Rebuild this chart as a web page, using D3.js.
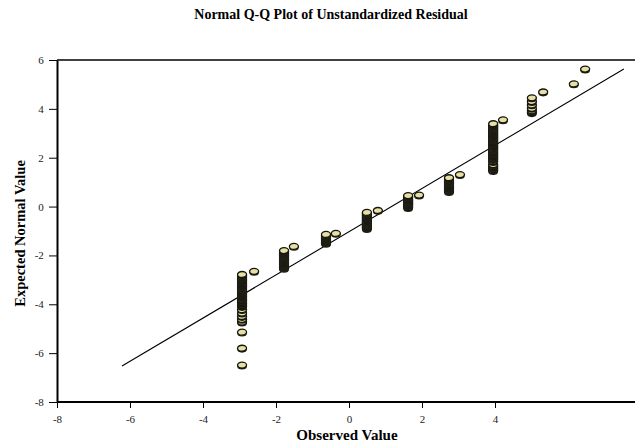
<!DOCTYPE html>
<html>
<head>
<meta charset="utf-8">
<script src="https://cdn.jsdelivr.net/npm/d3@7"></script>
<style>
  body { margin: 0; background: #fff; }
  svg { display: block; }
</style>
</head>
<body>
<svg id="chart" width="635" height="442"></svg>
<script>
// ---- data ----
const xTicks = [-8, -6, -4, -2, 0, 2, 4];
const yTicks = [-8, -6, -4, -2, 0, 2, 4, 6];

// observed value of each stacked cluster
const clusterObserved = [-2.93, -1.78, -0.63, 0.49, 1.62, 2.74, 3.95, 5.01];
// expected normal values within each cluster
const clusterExpected = [
  [-2.78, -2.83, -2.88, -2.93, -2.98, -3.03, -3.08, -3.13, -3.18, -3.23, -3.28, -3.33, -3.38, -3.43, -3.48, -3.53, -3.58, -3.63, -3.68, -3.73, -3.79, -3.85, -3.91, -3.97, -4.03, -4.09, -4.22, -4.36, -4.50, -4.62, -4.73, -5.14, -5.80, -6.49],
  [-1.80, -1.84, -1.88, -1.92, -1.96, -2.00, -2.05, -2.10, -2.14, -2.18, -2.22, -2.27, -2.32, -2.36, -2.41, -2.45, -2.49, -2.53],
  [-1.14, -1.18, -1.22, -1.26, -1.30, -1.34, -1.38, -1.43, -1.47, -1.51],
  [-0.24, -0.28, -0.33, -0.37, -0.42, -0.46, -0.50, -0.55, -0.59, -0.63, -0.68, -0.72, -0.76, -0.81, -0.85, -0.90],
  [0.45, 0.41, 0.36, 0.31, 0.26, 0.22, 0.17, 0.12, 0.08, 0.03, -0.04],
  [1.18, 1.13, 1.08, 1.03, 0.98, 0.93, 0.88, 0.83, 0.78, 0.73, 0.67, 0.61],
  [3.39, 3.34, 3.29, 3.24, 3.19, 3.14, 3.09, 3.04, 2.99, 2.94, 2.89, 2.84, 2.79, 2.74, 2.68, 2.63, 2.58, 2.52, 2.46, 2.40, 2.34, 2.28, 2.22, 2.16, 2.10, 2.04, 1.98, 1.92, 1.84, 1.72, 1.66, 1.60, 1.54, 1.47],
  [4.45, 4.30, 4.16, 4.02, 3.92, 3.84]
];
// isolated points beside the stacks
const extraObserved = [-2.60, -1.51, -0.36, 0.79, 1.92, 3.04, 4.22, 5.32, 6.16, 6.47];
const extraExpected = [-2.65, -1.63, -1.10, -0.16, 0.47, 1.31, 3.55, 4.69, 5.02, 5.63];

// reference line end points
const lineObserved = [-6.22, 7.53];
const lineExpected = [-6.53, 5.63];

// ---- drawing ----
const svg = d3.select("#chart");
const serif = "'Liberation Serif', 'Times New Roman', serif";

const x = d3.scaleLinear().domain([-8, 8]).range([57, 641]);
const y = d3.scaleLinear().domain([-8, 6]).range([402, 60]);

// title
svg.append("text")
  .attr("x", 331).attr("y", 19)
  .attr("text-anchor", "middle")
  .attr("font-family", serif)
  .attr("font-weight", "bold")
  .attr("font-size", 14)
  .text("Normal Q-Q Plot of Unstandardized Residual");

// top frame line
svg.append("line")
  .attr("x1", x(-8)).attr("x2", 635)
  .attr("y1", y(6)).attr("y2", y(6))
  .attr("stroke", "#000").attr("stroke-width", 1.5);

// axes
const gx = svg.append("g")
  .attr("transform", `translate(0,${y(-8)})`)
  .call(d3.axisBottom(x).tickValues(xTicks).tickSize(6).tickSizeOuter(0).tickFormat(d3.format("d")));
const gy = svg.append("g")
  .attr("transform", `translate(${x(-8)},0)`)
  .call(d3.axisLeft(y).tickValues(yTicks).tickSize(8).tickSizeOuter(0).tickFormat(d3.format("d")));

[gx, gy].forEach(g => {
  g.select(".domain").attr("stroke", "#000").attr("stroke-width", 2);
  g.selectAll(".tick line").attr("stroke", "#000").attr("stroke-width", 1);
  g.selectAll(".tick text")
    .attr("font-family", serif)
    .attr("font-size", 11)
    .attr("fill", "#222")
    .text(d => d < 0 ? "-" + Math.abs(d) : d);
});
gx.select(".domain").attr("d", `M${x(-8)},0H635`);
gx.selectAll(".tick text").attr("dy", "1.05em");
gy.selectAll(".tick text").attr("dx", "-0.2em");

// axis titles
svg.append("text")
  .attr("x", 347).attr("y", 440)
  .attr("text-anchor", "middle")
  .attr("font-family", serif)
  .attr("font-weight", "bold")
  .attr("font-size", 15)
  .text("Observed Value");
svg.append("text")
  .attr("transform", `translate(25,${y(-1.1)}) rotate(-90)`)
  .attr("text-anchor", "middle")
  .attr("font-family", serif)
  .attr("font-weight", "bold")
  .attr("font-size", 14.5)
  .text("Expected Normal Value");

// reference line
svg.append("line")
  .attr("x1", x(lineObserved[0])).attr("y1", y(lineExpected[0]))
  .attr("x2", x(lineObserved[1])).attr("y2", y(lineExpected[1]))
  .attr("stroke", "#000").attr("stroke-width", 1.1);

// points
const points = [];
clusterObserved.forEach((ox, i) => {
  clusterExpected[i].forEach(ey => points.push({ o: ox, e: ey }));
});
extraObserved.forEach((ox, i) => points.push({ o: ox, e: extraExpected[i] }));
points.sort((a, b) => a.e - b.e);

const marks = svg.append("g").selectAll("g")
  .data(points)
  .join("g")
  .attr("transform", d => `translate(${x(d.o)},${y(d.e)})`);
marks.append("ellipse")
  .attr("cy", 1.1)
  .attr("rx", 4.8)
  .attr("ry", 3.3)
  .attr("fill", "#202018");
marks.append("ellipse")
  .attr("rx", 4.5)
  .attr("ry", 3.0)
  .attr("fill", "#e8dfa6")
  .attr("stroke", "#15150c")
  .attr("stroke-width", 1.3);
</script>
</body>
</html>
